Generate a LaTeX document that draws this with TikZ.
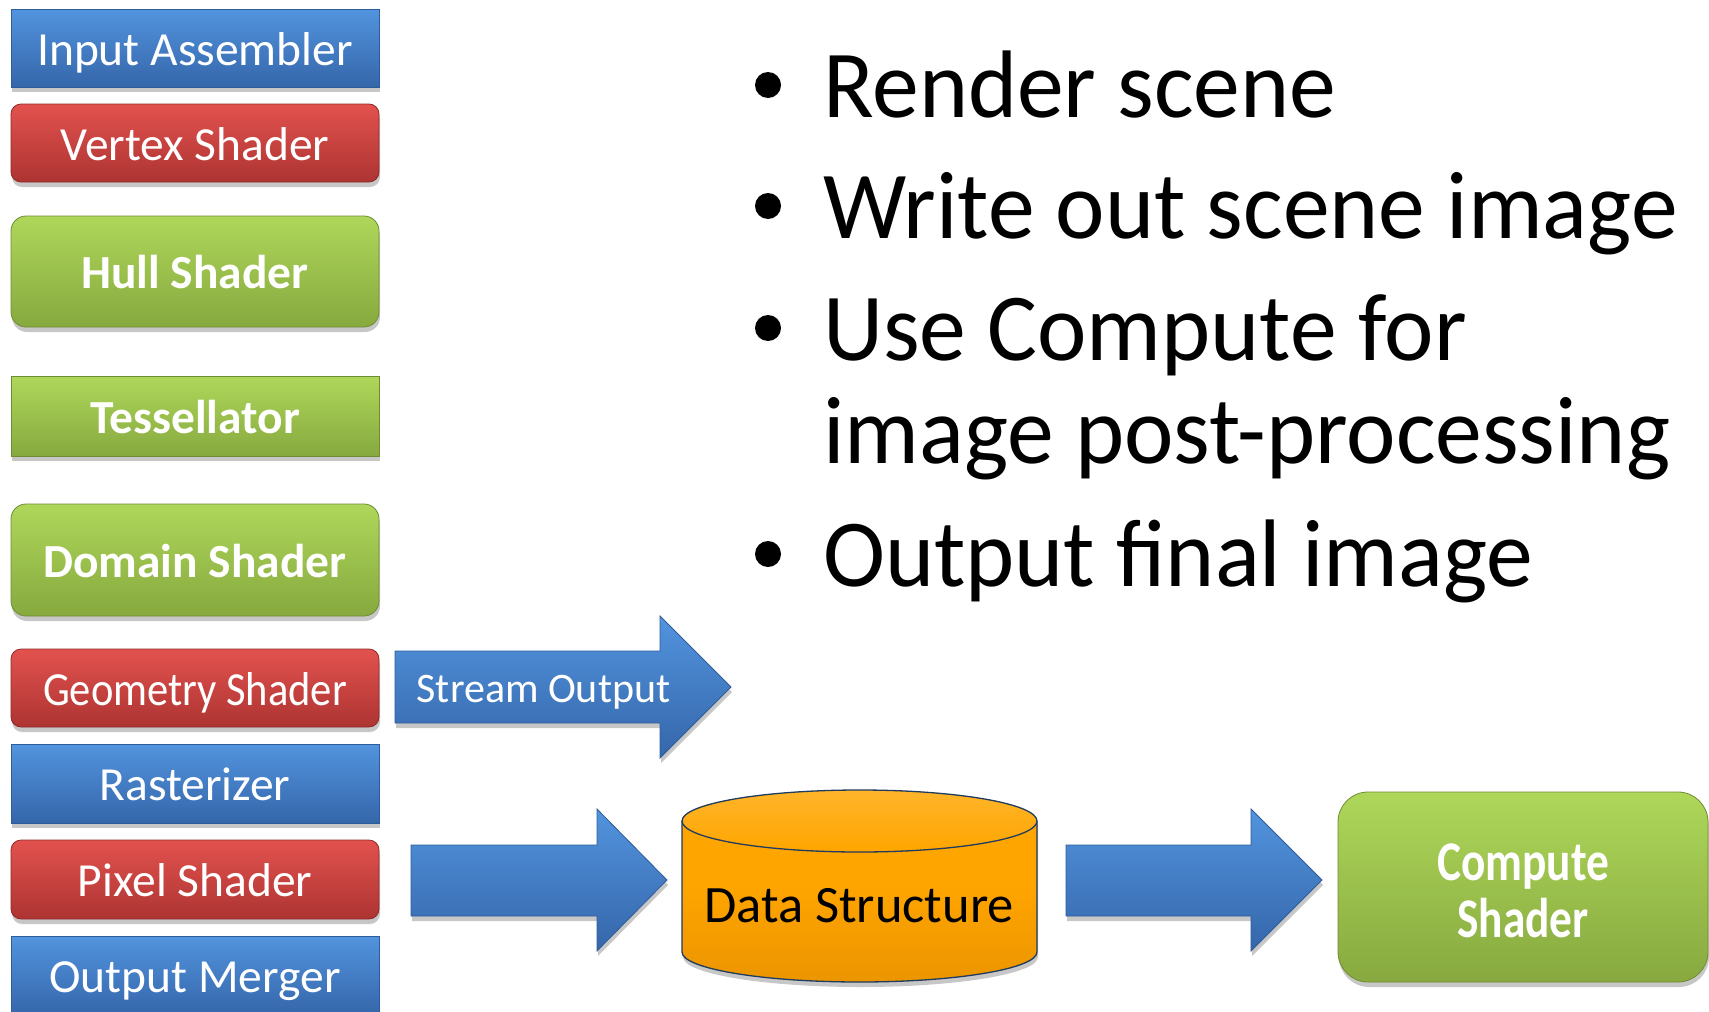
\documentclass[tikz,border=0pt]{standalone}
\usepackage{fontspec}
\setmainfont{Carlito}
\usetikzlibrary{shadows}
\definecolor{bT}{HTML}{5294DE}
\definecolor{bB}{HTML}{3566AA}
\definecolor{bE}{HTML}{2E5C99}
\definecolor{rT}{HTML}{E2524E}
\definecolor{rB}{HTML}{AD3432}
\definecolor{rE}{HTML}{8E2B29}
\definecolor{gT}{HTML}{AED75A}
\definecolor{gB}{HTML}{87A93F}
\definecolor{gE}{HTML}{6F8C33}
\definecolor{oM}{HTML}{FFA500}
\definecolor{oD}{HTML}{EB9500}
\definecolor{oL}{HTML}{FFB52A}
\definecolor{cylE}{HTML}{1F3B5E}
\newcommand\stagefont{\fontsize{47.5}{57}\selectfont}
\newcommand\bulletfont{\fontsize{96}{103}\selectfont}
\newcommand\bline[1]{\scalebox{0.975}[1]{#1}}
\begin{document}
\begin{tikzpicture}[x=1pt,y=-1pt,
  shad/.style={drop shadow={opacity=0.22, shadow xshift=1pt, shadow yshift=-5pt, fill=black}},
  stage/.style={shad, minimum width=368pt, inner sep=0pt, text=white, font=\stagefont,
     text height=34pt, text depth=0pt, line width=0.8pt},
  bluebox/.style={stage, top color=bT, bottom color=bB, draw=bE},
  redbox/.style={stage, top color=rT, bottom color=rB, draw=rE, rounded corners=10pt},
  greenbox/.style={stage, top color=gT, bottom color=gB, draw=gE, font=\stagefont\bfseries},
  blockarrow/.style={shad, top color=bT, bottom color=bB, draw=bE, line width=0.8pt},
  bullettext/.style={anchor=base west, inner sep=0pt, font=\bulletfont},
  cstext/.style={anchor=base, inner sep=0pt, text=white, font=\fontsize{56}{57}\selectfont\bfseries},
  dot/.style={fill=black}
]
\useasboundingbox (0,0) rectangle (1709,1012);

% pipeline stages
\node[bluebox, minimum height=78pt] (ia) at (195,48) {Input Assembler};
\node[redbox, minimum height=78pt] (vs) at (195,143) {Vertex Shader};
\node[greenbox, rounded corners=15pt, minimum height=111pt] (hs) at (195,271.5) {Hull Shader};
\node[greenbox, minimum height=80pt] (ts) at (195,416) {Tessellator};
\node[greenbox, rounded corners=15pt, minimum height=112pt] (dsh) at (195,560) {Domain Shader};
\node[redbox, minimum height=78pt] (gs) at (195,688) {\scalebox{0.895}[1]{Geometry Shader}};
\node[bluebox, minimum height=79pt] (ra) at (195,783.5) {Rasterizer};
\node[redbox, minimum height=79pt] (ps) at (195,879.5) {Pixel Shader};
\node[bluebox, minimum height=79pt] (om) at (195,975.5) {Output Merger};

% stream output arrow
\path[blockarrow] (395,651) -- (660,651) -- (660,616) -- (731,687) -- (660,758) -- (660,723) -- (395,723) -- cycle;
\node[text=white, inner sep=0pt, font=\fontsize{42}{50}\selectfont, text height=27pt, text depth=0pt] (so) at (543.5,689) {Stream Output};

% arrow into data structure
\path[blockarrow] (411,845) -- (597,845) -- (597,809) -- (667,880) -- (597,951) -- (597,916) -- (411,916) -- cycle;

% data structure cylinder
\path[shad, top color=oM, bottom color=oD, middle color=oM]
  (682,821) -- (682,952) arc[start angle=180, end angle=0, x radius=177.5, y radius=30]
  -- (1037,821) arc[start angle=0, end angle=-180, x radius=177.5, y radius=31] -- cycle;
\draw[cylE, line width=1.3pt]
  (682,821) -- (682,952) arc[start angle=180, end angle=0, x radius=177.5, y radius=30]
  -- (1037,821);
\draw[cylE, line width=1.3pt, top color=oL, bottom color=oM] (859.5,821) ellipse[x radius=177.5, y radius=31];
\node[inner sep=0pt, font=\fontsize{52.5}{60}\selectfont, text height=33pt, text depth=0pt] (ds) at (859,906) {Data Structure};

% arrow into compute shader
\path[blockarrow] (1066,845) -- (1251,845) -- (1251,809) -- (1322,880) -- (1251,951) -- (1251,916) -- (1066,916) -- cycle;

% compute shader
\node[shad, top color=gT, bottom color=gB, draw=gE, line width=0.8pt, rounded corners=30pt,
  minimum width=370pt, minimum height=190pt, inner sep=0pt] (cs) at (1523,887) {};
\node[cstext] (cs1) at (1523,880) {\scalebox{0.81}[1]{Compute}};
\node[cstext] (cs2) at (1523,937) {\scalebox{0.81}[1]{Shader}};

% bullet list
\fill[dot] (768,85) circle (13);
\node[bullettext] (b1) at (823,117) {\bline{Render scene}};
\fill[dot] (768,206) circle (13);
\node[bullettext] (b2) at (823,238) {\bline{Write out scene image}};
\fill[dot] (768,328) circle (13);
\node[bullettext] (b3) at (823,360) {\bline{Use Compute for}};
\node[bullettext] (b3b) at (823,463) {\bline{image post-processing}};
\fill[dot] (768,554) circle (13);
\node[bullettext] (b4) at (823,586) {\bline{Output final image}};
\end{tikzpicture}
\end{document}
